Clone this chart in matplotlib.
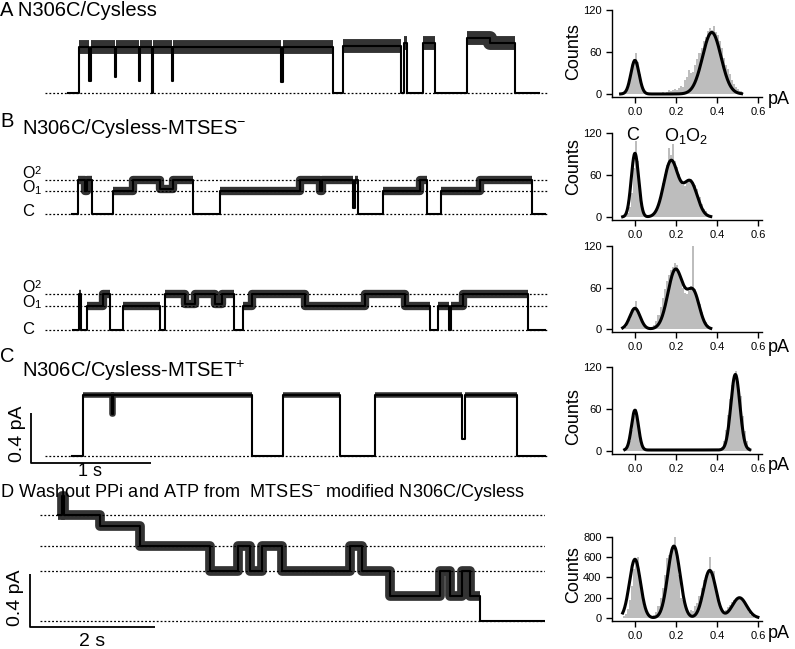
import numpy as np
import matplotlib.pyplot as plt

plt.rcParams.update({
    "font.family": ["Liberation Sans", "DejaVu Sans"],
    "mathtext.fontset": "custom",
    "mathtext.rm": "Liberation Sans",
    "mathtext.it": "Liberation Sans:italic",
    "mathtext.bf": "Liberation Sans:bold",
    "mathtext.default": "regular",
})

# ---------------- traces: dwell start (s) / current level (pA) ----------------
a_t = [0.19, 0.28, 0.37, 0.385, 0.58, 0.595, 0.78, 0.79, 0.89, 0.90, 1.06, 1.07,
       1.97, 1.98, 2.40, 2.48, 2.97, 2.99, 3.02, 3.15, 3.25, 3.52, 3.71, 3.92]
a_lv = [0.0, 0.37, 0.10, 0.37, 0.13, 0.37, 0.10, 0.37, 0.0, 0.37, 0.10, 0.37,
        0.09, 0.37, 0.0, 0.38, 0.0, 0.40, 0.0, 0.40, 0.0, 0.44, 0.40, 0.0]
a_end = 4.12

b1_t = [0.225, 0.275, 0.333, 0.35, 0.392, 0.567, 0.733, 0.958, 1.067, 1.233, 1.458,
        2.125, 2.29, 2.31, 2.567, 2.58, 2.608, 2.817, 3.125, 3.183, 3.30, 3.625, 4.058]
b1_lv = [0.0, 0.27, 0.18, 0.27, 0.0, 0.18, 0.27, 0.20, 0.27, 0.0, 0.18,
         0.27, 0.18, 0.27, 0.05, 0.27, 0.0, 0.18, 0.27, 0.0, 0.18, 0.27, 0.0]
b1_end = 4.167

b2_t = [0.233, 0.283, 0.296, 0.35, 0.483, 0.542, 0.65, 0.958, 1.0, 1.167, 1.25, 1.417,
        1.475, 1.571, 1.65, 1.725, 2.167, 2.667, 3.0, 3.208, 3.275, 3.367, 3.383, 3.483, 4.025]
b2_lv = [0.0, 0.29, 0.0, 0.19, 0.29, 0.0, 0.19, 0.0, 0.29, 0.21, 0.29, 0.21,
         0.29, 0.0, 0.19, 0.29, 0.19, 0.29, 0.19, 0.0, 0.19, 0.0, 0.19, 0.29, 0.0]
b2_end = 4.167

c_t = [0.225, 0.317, 0.555, 0.565, 1.725, 1.983, 2.458, 2.75, 3.475, 3.50, 3.933]
c_lv = [0.0, 0.49, 0.34, 0.49, 0.0, 0.49, 0.0, 0.49, 0.14, 0.49, 0.0]
c_end = 4.167

d_t = [0.29, 0.35, 0.38, 0.96, 1.6, 2.72, 3.17, 3.36, 3.55, 3.87, 4.96, 5.15,
       5.6, 6.4, 6.56, 6.75, 6.88, 7.04]
d_lv = [0.80, 0.95, 0.80, 0.72, 0.57, 0.38, 0.57, 0.38, 0.57, 0.38, 0.57, 0.38,
        0.19, 0.38, 0.19, 0.38, 0.19, 0.0]
d_end = 8.08

# dotted reference levels
b1_levels = [0.0, 0.18, 0.27]
b2_levels = [0.0, 0.19, 0.29]
d_levels = [0.0, 0.38, 0.57, 0.80]

# ---------------- histograms (bin width 0.01 pA) ----------------
bin_w = 0.01
hist_a_start = -0.06
hist_a = [1, 3, 8, 20, 38, 50, 58, 45, 28, 12, 5, 2, 1, 1, 1, 1, 2, 1, 2, 3, 2, 3, 6, 4, 5, 7,
          5, 8, 12, 10, 20, 24, 34, 30, 32, 42, 50, 58, 66, 75, 82, 90, 94, 92, 97, 88, 84,
          75, 66, 52, 42, 36, 28, 20, 14, 10, 7, 4, 2]
fit_a = [(48, 0.0, 0.02), (88, 0.375, 0.045)]
fit_a_rng = (-0.07, 0.52)

hist_b1_start = -0.05
hist_b1 = [2, 6, 15, 35, 70, 108, 80, 40, 15, 6, 3, 2, 2, 3, 5, 10, 18, 30, 48, 62, 75, 98,
           88, 104, 80, 72, 62, 50, 46, 45, 50, 52, 55, 50, 46, 40, 28, 18, 12, 8, 4, 2]
fit_b1 = [(91, 0.0, 0.018), (80, 0.176, 0.035), (50, 0.27, 0.034)]
fit_b1_rng = (-0.06, 0.37)

hist_b2_start = -0.05
hist_b2 = [3, 8, 14, 22, 30, 40, 28, 20, 12, 7, 4, 2, 2, 3, 6, 12, 20, 32, 45, 58, 70, 78,
           85, 90, 96, 92, 82, 72, 60, 52, 50, 55, 62, 120, 58, 48, 36, 24, 15, 10, 6, 3]
fit_b2 = [(30, 0.0, 0.025), (86, 0.198, 0.037), (52, 0.285, 0.03)]
fit_b2_rng = (-0.06, 0.37)

hist_c_start = -0.05
hist_c = [2, 6, 14, 30, 50, 60, 45, 22, 8, 3, 1, 1, 1, 1, 1, 1, 1, 1, 1, 1, 1, 1, 1, 1, 1, 1,
          1, 1, 1, 1, 1, 1, 1, 1, 1, 1, 1, 1, 1, 1, 1, 1, 1, 1, 1, 1, 3, 6, 14, 30, 52, 75, 95,
          108, 115, 100, 78, 50, 28, 14, 6, 2]
fit_c = [(57, 0.0, 0.017), (108, 0.49, 0.022), (1.5, 0.25, 0.5)]
fit_c_rng = (-0.05, 0.56)

hist_d_start = -0.06
hist_d = [20, 40, 90, 180, 320, 480, 560, 600, 420, 250, 120, 60, 30, 20, 20, 30, 60, 120,
          200, 300, 420, 590, 620, 660, 700, 810, 640, 420, 200, 180, 120, 60, 40, 80, 70,
          120, 150, 220, 300, 380, 420, 460, 600, 450, 460, 300, 200, 120, 70, 60, 80, 110,
          130, 160, 180, 190, 200, 210, 180, 150, 100, 60, 30, 15]
fit_d = [(580, 0.0, 0.027), (710, 0.19, 0.03), (470, 0.365, 0.03), (200, 0.51, 0.035)]
fit_d_rng = (-0.06, 0.6)

W, H = 795, 649
fig = plt.figure(figsize=(W / 100, H / 100), dpi=100)


def px_axes(x0, x1, y0, y1):
    return fig.add_axes([x0 / W, 1 - y1 / H, (x1 - x0) / W, (y1 - y0) / H])


def px_text(x, y, s, **kw):
    fig.text(x / W, 1 - y / H, s, **kw)


def draw_trace(ax, t, lv, end, open_lw, levels, xlim, ylim):
    x = np.repeat(np.r_[t, end], 2)[1:-1]
    y = np.repeat(lv, 2)
    for lvl in levels:
        ax.axhline(lvl, color="black", lw=0.9, ls=(0, (1.5, 1.6)), zorder=1)
    # open dwells are noisier: draw them as a thicker band
    y_open = np.where(y > 0.15, y, np.nan)
    ax.plot(x, y_open, color="black", lw=open_lw, alpha=0.8,
            solid_capstyle="butt", zorder=2)
    ax.plot(x, y, color="black", lw=1.5, zorder=3)
    ax.set_xlim(*xlim)
    ax.set_ylim(*ylim)
    ax.axis("off")


def draw_hist(ax, start, counts, fit, rng, ylim, yticks):
    xs = start + bin_w * np.arange(len(counts)) + bin_w / 2
    ax.bar(xs, counts, width=bin_w, color="#bdbdbd", edgecolor="none", zorder=1)
    xf = np.linspace(rng[0], rng[1], 400)
    yf = sum(a * np.exp(-(xf - m) ** 2 / (2 * s ** 2)) for a, m, s in fit)
    ax.plot(xf, yf, color="black", lw=2.2, zorder=2)
    ax.set_xlim(-0.112, 0.62)
    ax.set_ylim(*ylim)
    ax.set_yticks(yticks)
    ax.set_xticks([0, 0.2, 0.4, 0.6])
    ax.set_xticklabels(["0.0", "0.2", "0.4", "0.6"])
    for s in ["top", "right"]:
        ax.spines[s].set_visible(False)
    for s in ["left", "bottom"]:
        ax.spines[s].set_linewidth(1.0)
    ax.tick_params(direction="out", length=4.5, width=1.0, labelsize=8, pad=3)


# ---------------- panel titles ----------------
tfs = 14.5
px_text(0, 16, "A N306C/Cysless", fontsize=tfs, va="baseline")
px_text(0, 127, "B", fontsize=tfs, va="baseline")
px_text(22, 134, r"N306C/Cysless-MTSES$^{-}$", fontsize=tfs, va="baseline")
px_text(0, 362, "C", fontsize=tfs, va="baseline")
px_text(22, 377, r"N306C/Cysless-MTSET$^{+}$", fontsize=tfs, va="baseline")
px_text(0, 497, r"D Washout PPi and ATP from  MTSES$^{-}$ modified N306C/Cysless",
        fontsize=13.1, va="baseline")

# ---------------- traces ----------------
pxs, pxa = 120.0, 125.0  # px per s, px per pA (A-C)

ax = px_axes(45, 549, 93 - 0.65 * pxa, 93 + 0.15 * pxa)
draw_trace(ax, a_t, a_lv, a_end, 10, [0.0], (0, 504 / pxs), (-0.15, 0.65))

ax = px_axes(45, 549, 214 - 0.5 * pxa, 214 + 0.1 * pxa)
draw_trace(ax, b1_t, b1_lv, b1_end, 6, b1_levels, (0, 504 / pxs), (-0.1, 0.5))

ax = px_axes(45, 549, 330 - 0.5 * pxa, 330 + 0.1 * pxa)
draw_trace(ax, b2_t, b2_lv, b2_end, 6, b2_levels, (0, 504 / pxs), (-0.1, 0.5))

ax_c = px_axes(45, 549, 456 - 0.65 * pxa, 456 + 0.1 * pxa)
draw_trace(ax_c, c_t, c_lv, c_end, 4, [0.0], (0, 504 / pxs), (-0.1, 0.65))

pxs_d, pxa_d = 62.5, 132.0
ax_d = px_axes(40, 545, 621 - 1.1 * pxa_d, 621 + 0.1 * pxa_d)
draw_trace(ax_d, d_t, d_lv, d_end, 7, d_levels, (0, 505 / pxs_d), (-0.1, 1.1))

# state labels for B traces
for yo, yc in [(174, 211), (288, 329)]:
    px_text(22, yo, "O", fontsize=11.5, va="center")
    px_text(34, yo - 3, "2", fontsize=8, va="center")
    px_text(22, yo + 14, "O", fontsize=11.5, va="center")
    px_text(34, yo + 17, "1", fontsize=8, va="center")
    px_text(22, yc, "C", fontsize=12, va="center")

# scale bars (C: 0.4 pA / 1 s, D: 0.4 pA / 2 s)
bar_pa = 0.4
bar_c_s, bar_d_s = 1.0, 2.0
x0c, y0c = -14 / pxs, -7 / pxa
ax_c.plot([x0c, x0c, x0c + bar_c_s], [y0c + bar_pa, y0c, y0c], color="black", lw=1.3,
          clip_on=False, solid_capstyle="butt")
px_text(17, 434, "0.4 pA", fontsize=14, rotation=90, ha="center", va="center")
px_text(90, 472, "1 s", fontsize=13, ha="center", va="center")

x0d, y0d = -10 / pxs_d, -6 / pxa_d
ax_d.plot([x0d, x0d, x0d + bar_d_s], [y0d + bar_pa, y0d, y0d], color="black", lw=1.3,
          clip_on=False, solid_capstyle="butt")
px_text(15, 598, "0.4 pA", fontsize=14, rotation=90, ha="center", va="center")
px_text(92, 641, "2 s", fontsize=14, ha="center", va="center")

# ---------------- histograms ----------------
h_a = px_axes(612, 762, 10, 97)
draw_hist(h_a, hist_a_start, hist_a, fit_a, fit_a_rng, (-4.3, 120), [0, 60, 120])
h_b1 = px_axes(612, 762, 133, 219.8)
draw_hist(h_b1, hist_b1_start, hist_b1, fit_b1, fit_b1_rng, (-4, 120), [0, 60, 120])
h_b2 = px_axes(612, 762, 246, 331.8)
draw_hist(h_b2, hist_b2_start, hist_b2, fit_b2, fit_b2_rng, (-4, 120), [0, 60, 120])
h_c = px_axes(612, 762, 367, 453.8)
draw_hist(h_c, hist_c_start, hist_c, fit_c, fit_c_rng, (-4, 120), [0, 60, 120])
h_d = px_axes(612, 762, 537, 621)
draw_hist(h_d, hist_d_start, hist_d, fit_d, fit_d_rng, (-30, 800), [0, 200, 400, 600, 800])

for yc in [52, 167, 417, 575]:
    px_text(574, yc, "Counts", fontsize=13, rotation=90, ha="center", va="center")
for yp in [100, 347, 466, 634]:
    px_text(779, yp, "pA", fontsize=13, ha="center", va="center")

px_text(633, 136, "C", fontsize=13, ha="center", va="center")
px_text(686, 136, r"O$_1$O$_2$", fontsize=13, ha="center", va="center")

fig.savefig("out.png", dpi=100)
